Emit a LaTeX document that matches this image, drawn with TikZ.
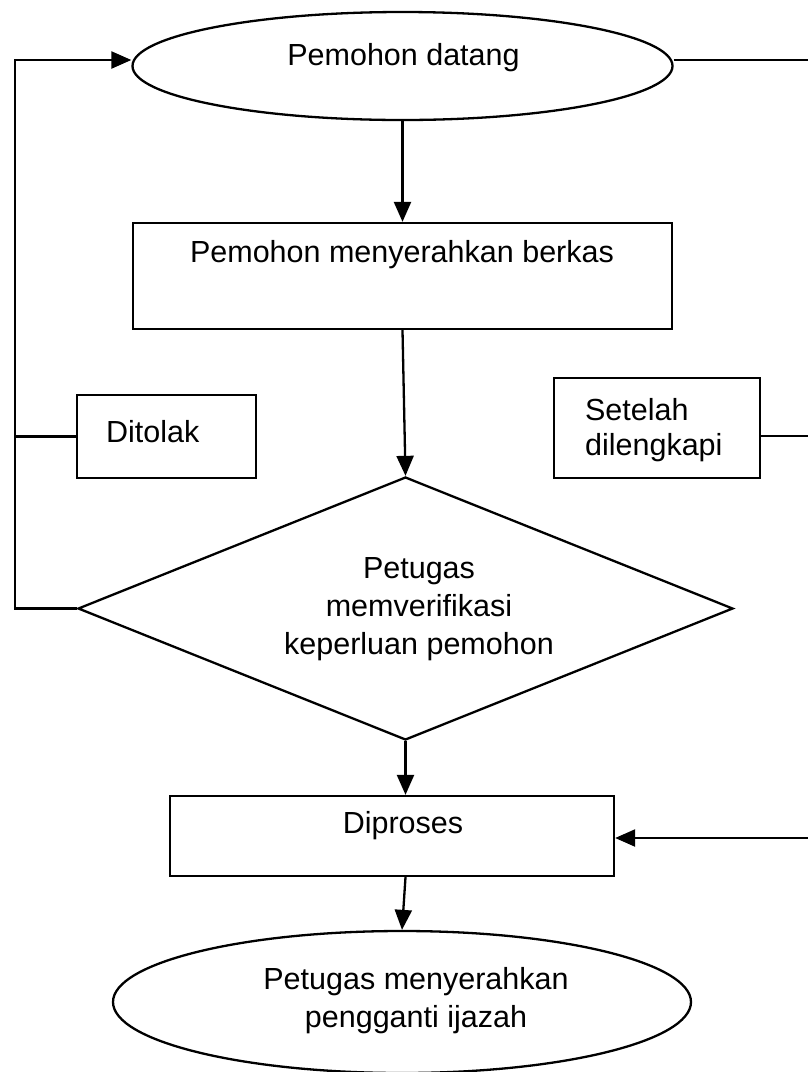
\documentclass[tikz,border=0pt]{standalone}
\usepackage{fontspec}
\setmainfont{Liberation Sans}
\usetikzlibrary{shapes.geometric,arrows.meta}
\begin{document}
\begin{tikzpicture}[x=1pt,y=-1pt,
  line width=2.3pt,
  ell/.style={draw, ellipse, inner sep=0pt},
  boxs/.style={draw, rectangle, inner sep=0pt},
  dia/.style={draw, diamond, inner sep=0pt},
  txt/.style={inner sep=0pt, font=\fontsize{30.5}{38}\selectfont, align=center},
  arr/.style={-{Triangle[length=20pt,width=17pt]}}
]
\useasboundingbox (0,0) rectangle (807,1072);
\fill[white] (0,0) rectangle (807,1072);
% shapes
\node[ell, minimum width=540pt, minimum height=108pt] (start) at (402.5,66) {};
\node[txt] (tstart) at (403.5,58) {Pemohon datang};
\node[boxs, minimum width=539pt, minimum height=106pt] (submit) at (402.5,276) {};
\node[txt] (tsubmit) at (402,255) {Pemohon menyerahkan berkas};
\node[boxs, minimum width=179pt, minimum height=83pt] (rej) at (166.5,436.5) {};
\node[txt, anchor=west] (trej) at (105,432) {Ditolak};
\node[boxs, minimum width=206pt, minimum height=100pt] (comp) at (657,428) {};
\node[txt, anchor=west, align=left, font=\fontsize{30.5}{35}\selectfont] (tcomp) at (584,430) {Setelah\\dilengkapi};
\node[dia, minimum width=655pt, minimum height=263pt] (verify) at (405.5,608.5) {};
\node[txt] (tverify) at (419,609) {Petugas\\memverifikasi\\keperluan pemohon};
\node[boxs, minimum width=444pt, minimum height=80pt] (proc) at (392,836) {};
\node[txt] (tproc) at (403,826) {Diproses};
\node[ell, minimum width=578pt, minimum height=142pt] (done) at (402,1002) {};
\node[txt] (tdone) at (416,1001) {Petugas menyerahkan\\pengganti ijazah};
% coordinates for the loops
\coordinate (lt) at (15,60);
\coordinate (lb) at (15,608.5);
\coordinate (lm) at (15,436.5);
\coordinate (rt) at (810,60);
\coordinate (rb) at (810,838);
\coordinate (rm) at (810,436);
% connectors
\draw[arr] (start.south) -- (submit.north);
\draw[arr] (submit.south) -- (verify.north);
\draw[arr] (verify.south) -- (verify.south |- proc.north);
\draw[arr] (verify.south |- proc.south) -- (done.north);
\draw[arr] (verify.west) -- (lb) -- (lt) -- ([yshift=6pt]start.west);
\draw (rej.west) -- (lm);
\draw[arr] ([yshift=6pt]start.east) -- (rt) -- (rb) -- ([yshift=-2pt]proc.east);
\draw ([yshift=-8pt]comp.east) -- (rm);
\end{tikzpicture}
\end{document}
